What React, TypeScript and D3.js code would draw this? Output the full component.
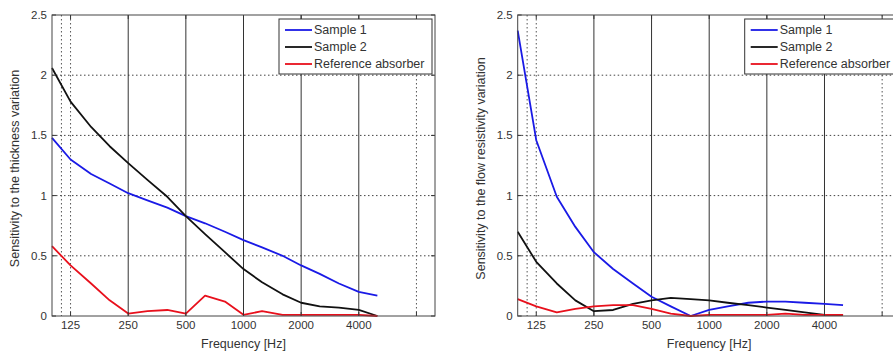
import * as d3 from "d3";
import React from "react";

// 1/3 octave centre frequencies
const freqs = [100, 125, 160, 200, 250, 315, 400, 500, 630, 800, 1000, 1250, 1600, 2000, 2500, 3150, 4000, 5000];

// thickness sensitivity (left panel)
const thickSample1 = [1.48, 1.3, 1.18, 1.1, 1.02, 0.96, 0.9, 0.83, 0.77, 0.7, 0.63, 0.57, 0.5, 0.42, 0.35, 0.27, 0.2, 0.17];
const thickSample2 = [2.06, 1.78, 1.57, 1.41, 1.27, 1.13, 0.99, 0.83, 0.68, 0.53, 0.39, 0.28, 0.18, 0.11, 0.08, 0.07, 0.05, 0.0];
const thickRef = [0.58, 0.42, 0.27, 0.13, 0.02, 0.04, 0.05, 0.02, 0.17, 0.12, 0.01, 0.04, 0.01, 0.01, 0.01, 0.01, 0.01, 0.0];

// flow resistivity sensitivity (right panel)
const flowSample1 = [2.37, 1.46, 0.99, 0.74, 0.53, 0.39, 0.27, 0.16, 0.08, 0.0, 0.05, 0.08, 0.11, 0.12, 0.12, 0.11, 0.1, 0.09];
const flowSample2 = [0.7, 0.45, 0.27, 0.13, 0.04, 0.05, 0.1, 0.13, 0.15, 0.14, 0.13, 0.11, 0.09, 0.07, 0.05, 0.03, 0.01, 0.01];
const flowRef = [0.14, 0.08, 0.03, 0.06, 0.08, 0.09, 0.09, 0.06, 0.02, 0.0, 0.01, 0.01, 0.01, 0.01, 0.02, 0.01, 0.01, 0.01];

const xTicks = [125, 250, 500, 1000, 2000, 4000];
const solidLines = [250, 500, 1000, 2000, 4000];
const dottedLines = [112, 125, 8000];
const yTicks = [0, 0.5, 1, 1.5, 2, 2.5];
const seriesNames = ["Sample 1", "Sample 2", "Reference absorber"];
const seriesColors = ["#1a1ae6", "#111111", "#e8101c"];

const FONT = "Arial, 'Liberation Sans', Helvetica, sans-serif";

type PanelProps = {
  left: number;
  ylabel: string;
  series: number[][];
};

const Panel = ({ left, ylabel, series }: PanelProps) => {
  const top = 15;
  const bottom = 316;
  const right = left + 383;

  const x = d3.scaleLog().domain([100, 10000]).range([left, right]);
  const y = d3.scaleLinear().domain([0, 2.5]).range([bottom, top]);
  const line = d3
    .line<number>()
    .x((_, i) => x(freqs[i]))
    .y((d) => y(d));

  const lx = right - 156;
  const ly = top + 4;

  return (
    <g>
      <rect x={left} y={top} width={right - left} height={bottom - top} fill="#fff" />
      {/* horizontal dotted grid */}
      {yTicks.slice(1, -1).map((t) => (
        <line key={"h" + t} x1={left} x2={right} y1={y(t)} y2={y(t)} stroke="#444" strokeWidth={1} strokeDasharray="1.5,2.5" />
      ))}
      {dottedLines.map((f) => (
        <line key={"d" + f} x1={x(f)} x2={x(f)} y1={top} y2={bottom} stroke="#555" strokeWidth={1} strokeDasharray="1.5,2.5" />
      ))}
      {solidLines.map((f) => (
        <line key={"s" + f} x1={x(f)} x2={x(f)} y1={top} y2={bottom} stroke="#333" strokeWidth={1} />
      ))}
      {series.map((s, i) => (
        <path key={"p" + i} d={line(s) || ""} fill="none" stroke={seriesColors[i]} strokeWidth={1.8} strokeLinejoin="round" />
      ))}
      {/* ticks */}
      {xTicks.concat([8000]).map((f) => (
        <g key={"xt" + f}>
          <line x1={x(f)} x2={x(f)} y1={bottom} y2={bottom - 4} stroke="#333" />
          <line x1={x(f)} x2={x(f)} y1={top} y2={top + 4} stroke="#333" />
        </g>
      ))}
      {yTicks.map((t) => (
        <g key={"yt" + t}>
          <line x1={left} x2={left + 4} y1={y(t)} y2={y(t)} stroke="#333" />
          <line x1={right} x2={right - 4} y1={y(t)} y2={y(t)} stroke="#333" />
          <text x={left - 5} y={y(t)} dy="0.35em" textAnchor="end" fontSize={11.5} fill="#333" fontFamily={FONT}>
            {t}
          </text>
        </g>
      ))}
      {xTicks.map((f) => (
        <text key={"xl" + f} x={x(f)} y={bottom + 13} textAnchor="middle" fontSize={11.5} fill="#333" fontFamily={FONT}>
          {f}
        </text>
      ))}
      <rect x={left} y={top} width={right - left} height={bottom - top} fill="none" stroke="#444" strokeWidth={1} />
      {/* legend */}
      <rect x={lx} y={ly} width={153} height={55} fill="#fff" stroke="#333" strokeWidth={1} />
      {seriesNames.map((n, i) => (
        <g key={"lg" + i}>
          <line x1={lx + 6} x2={lx + 33} y1={ly + 11 + i * 17} y2={ly + 11 + i * 17} stroke={seriesColors[i]} strokeWidth={1.8} />
          <text x={lx + 35} y={ly + 11 + i * 17} dy="0.35em" fontSize={12.5} fill="#333" fontFamily={FONT}>
            {n}
          </text>
        </g>
      ))}
      <text x={(left + right) / 2} y={bottom + 32} textAnchor="middle" fontSize={12.5} fill="#333" fontFamily={FONT}>
        Frequency [Hz]
      </text>
      <text
        transform={`translate(${left - 33},${(top + bottom) / 2 + 3}) rotate(-90)`}
        textAnchor="middle"
        fontSize={12.5}
        fill="#333"
        fontFamily={FONT}
      >
        {ylabel}
      </text>
    </g>
  );
};

export default function App() {
  return (
    <svg width={893} height={354} style={{ position: "absolute", left: 0, top: 0, background: "#fff" }}>
      <rect width={893} height={354} fill="#fff" />
      <Panel left={52} ylabel="Sensitivity to the thickness variation" series={[thickSample1, thickSample2, thickRef]} />
      <Panel left={517.7} ylabel="Sensitivity to the flow resistivity variation" series={[flowSample1, flowSample2, flowRef]} />
    </svg>
  );
}
